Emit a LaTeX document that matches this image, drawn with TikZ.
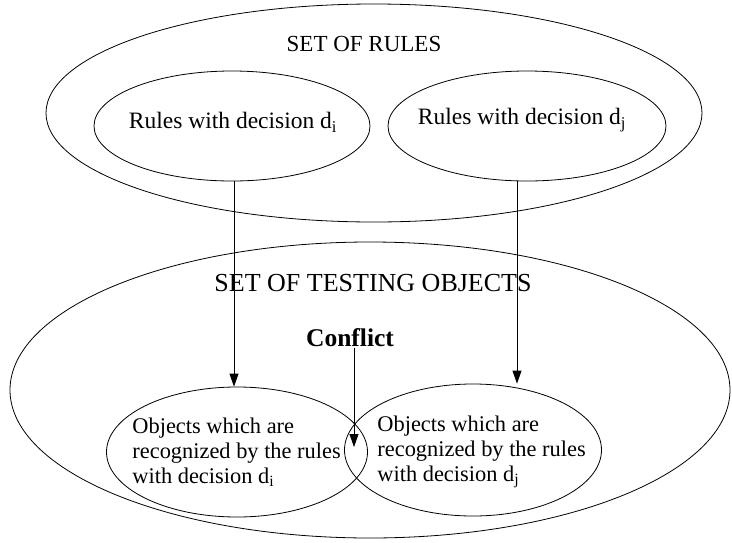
\documentclass[tikz,border=0pt]{standalone}
\usepackage{fontspec}
\setmainfont{Liberation Serif}
\usetikzlibrary{shapes.geometric, arrows.meta}

\begin{document}
\begin{tikzpicture}[x=1pt, y=-1pt, line width=0.8pt,
  set/.style={draw, ellipse, inner sep=0pt},
  lbl/.style={inner sep=0pt, font=\fontsize{22.4}{25}\selectfont},
  ttl/.style={inner sep=0pt, font=\fontsize{23}{27}\selectfont},
  hit/.style={-{Triangle[width=9pt, length=13pt]}}]
\useasboundingbox (0,0) rectangle (732,542);
\node[set, minimum width=656pt, minimum height=218pt] (rules) at (374,113) {};
\node[set, minimum width=276pt, minimum height=110pt] (ri) at (232,126) {};
\node[set, minimum width=278pt, minimum height=110pt] (rj) at (527,126) {};
\node[set, minimum width=720pt, minimum height=296pt] (tests) at (370,390) {};
\node[set, minimum width=261pt, minimum height=130pt] (oi) at (237,452) {};
\node[set, minimum width=257pt, minimum height=132pt] (oj) at (473,450) {};
\node[ttl] (rulesT) at (364,44) {SET OF RULES};
\node[lbl, font=\fontsize{23.5}{27}\selectfont] at (233,122) {Rules with decision d\textsubscript{i}};
\node[lbl, font=\fontsize{23.5}{27}\selectfont] at (522,120) {Rules with decision d\textsubscript{j}};
\node[ttl, font=\fontsize{26}{30}\selectfont] (testsT) at (373,283) {SET OF TESTING OBJECTS};
\node[lbl, font=\fontsize{25.5}{30}\selectfont\bfseries] (conf) at (350,338) {Conflict};
\node[lbl, align=left, anchor=west] at (132,452) {Objects which are\\recognized by the rules\\with decision d\textsubscript{i}};
\node[lbl, align=left, anchor=west] at (377,452) {Objects which are\\recognized by the rules\\with decision d\textsubscript{j}};
\coordinate (lens) at (354,447);
\draw[hit] (ri.south -| 234,0) -- (234,0 |- oi.north);
\draw[hit] (rj.south -| 517,0) -- (517,0 |- oj.north);
\draw[hit] (conf.south -| lens) -- (lens);
\end{tikzpicture}
\end{document}
